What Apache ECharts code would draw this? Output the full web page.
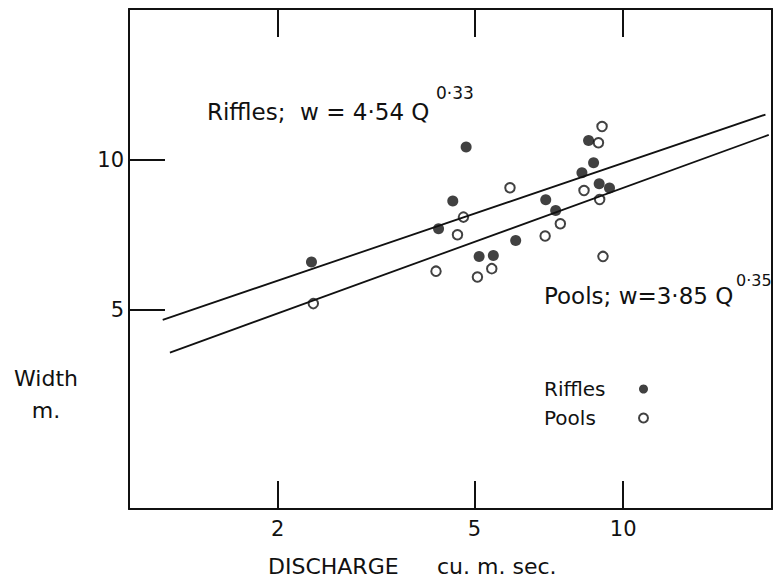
<!DOCTYPE html>
<html><head><meta charset="utf-8">
<script src="https://cdn.jsdelivr.net/npm/echarts@6/dist/echarts.min.js"></script>
<style>html,body{margin:0;padding:0;background:#fff}#c{width:774px;height:581px}</style>
</head><body><div id="c"></div>
<script>
// Discharge (cu. m. sec.) vs width (m.)
const xTicks = [2, 5, 10];
const yTicks = [5, 10];
const riffles = [[2.34,6.24],[4.52,8.26],[4.23,7.27],[4.81,10.59],[5.11,6.40],[5.46,6.43],[6.06,6.89],[6.97,8.31],[7.30,7.91],[8.25,9.41],[8.71,9.85],[8.94,8.94],[9.38,8.77],[8.51,10.91]];
const pools = [[2.36,5.15],[4.75,7.67],[4.62,7.07],[4.18,5.98],[5.07,5.82],[5.42,6.05],[5.90,8.78],[6.95,7.03],[7.46,7.44],[8.33,8.67],[8.96,8.32],[9.10,6.40],[9.06,11.64],[8.91,10.80]];
const rifflesFit = [[1.17,4.78],[19.4,12.3]];
const poolsFit = [[1.21,4.11],[19.7,11.2]];

const INK = '#111111';
const FONT = 'DejaVu Sans';
const chart = echarts.init(document.getElementById('c'), null, {renderer: 'svg'});

const lineStyle = {color: INK, width: 2};
function xAx(pos, showLabel) {
  return {
    type: 'log', logBase: 10, min: 1, max: 20, position: pos,
    axisLine: {show: true, lineStyle: lineStyle},
    axisTick: {show: true, inside: true, length: 28, customValues: xTicks, lineStyle: lineStyle},
    axisLabel: {show: showLabel, customValues: xTicks, color: INK, fontFamily: FONT, fontSize: 21, margin: 9},
    splitLine: {show: false}, minorTick: {show: false}
  };
}
function yAx(pos, showTicks) {
  return {
    type: 'log', logBase: 10, min: 2, max: 20, position: pos,
    axisLine: {show: true, lineStyle: lineStyle},
    axisTick: {show: showTicks, inside: true, length: 36, customValues: yTicks, lineStyle: lineStyle},
    axisLabel: {show: showTicks, customValues: yTicks, color: INK, fontFamily: FONT, fontSize: 21, margin: 5},
    splitLine: {show: false}, minorTick: {show: false}
  };
}

chart.setOption({
  backgroundColor: '#fff',
  animation: false,
  grid: {left: 129, right: 2, top: 9, bottom: 72, containLabel: false, outerBoundsMode: 'none'},
  xAxis: [xAx('bottom', true), xAx('top', false)],
  yAxis: [yAx('left', true), yAx('right', false)],
  legend: {
    orient: 'vertical', left: 544, top: 379, padding: 0, itemGap: 9,
    align: 'right', itemWidth: 9, itemHeight: 9,
    data: [{name: 'Riffles', icon: 'circle'}, {name: 'Pools', icon: 'circle'}],
    formatter: '{a|{name}}',
    textStyle: {color: INK, fontFamily: FONT, fontSize: 20,
      rich: {a: {width: 90, align: 'left', lineHeight: 22, fontSize: 20, fontFamily: FONT, color: INK}}}
  },
  series: [
    {name: 'Riffles fit', type: 'line', data: rifflesFit, symbol: 'none', lineStyle: {color: INK, width: 1.8}, silent: true},
    {name: 'Pools fit', type: 'line', data: poolsFit, symbol: 'none', lineStyle: {color: INK, width: 1.8}, silent: true},
    {name: 'Riffles', type: 'scatter', data: riffles, symbol: 'circle', symbolSize: 11,
      itemStyle: {color: INK}},
    {name: 'Pools', type: 'scatter', data: pools, symbol: 'circle', symbolSize: 9.5,
      itemStyle: {color: '#fff', borderColor: INK, borderWidth: 2}}
  ],
  graphic: [
    {type: 'text', x: 207, y: 112, style: {text: 'Riffles;  w = 4·54 Q', fontSize: 23, fontFamily: FONT, fill: INK, align: 'left', verticalAlign: 'middle'}},
    {type: 'text', x: 436, y: 93, style: {text: '0·33', fontSize: 17, fontFamily: FONT, fill: INK, align: 'left', verticalAlign: 'middle'}},
    {type: 'text', x: 544, y: 296, style: {text: 'Pools; w=3·85 Q', fontSize: 23, fontFamily: FONT, fill: INK, align: 'left', verticalAlign: 'middle'}},
    {type: 'text', x: 736, y: 280, style: {text: '0·35', fontSize: 16, fontFamily: FONT, fill: INK, align: 'left', verticalAlign: 'middle'}},
    {type: 'text', x: 46, y: 394, style: {text: 'Width\nm.', fontSize: 22, lineHeight: 32, fontFamily: FONT, fill: INK, align: 'center', verticalAlign: 'middle'}},
    {type: 'text', x: 268, y: 566, style: {text: 'DISCHARGE', fontSize: 22, fontFamily: FONT, fill: INK, align: 'left', verticalAlign: 'middle'}},
    {type: 'text', x: 437, y: 566, style: {text: 'cu. m. sec.', fontSize: 22, fontFamily: FONT, fill: INK, align: 'left', verticalAlign: 'middle'}}
  ]
});
</script>
</body></html>
